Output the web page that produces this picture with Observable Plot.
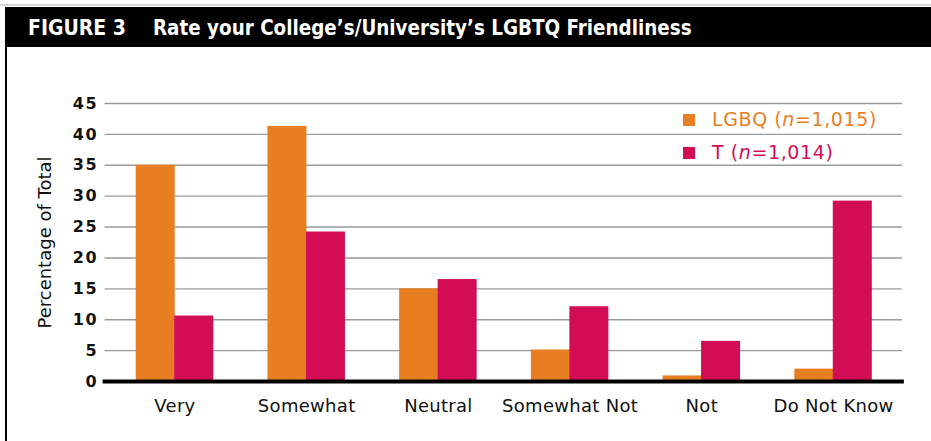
<!DOCTYPE html>
<html>
<head>
<meta charset="utf-8">
<script src="https://cdn.jsdelivr.net/npm/d3@7"></script>
<script src="https://cdn.jsdelivr.net/npm/@observablehq/plot@0.6"></script>
<style>
  body { margin: 0; background: #fff; }
  #wrap { position: relative; width: 931px; height: 441px; overflow: hidden; font-family: "DejaVu Sans", sans-serif; }
  #topline { position: absolute; left: 0; top: 4px; width: 931px; height: 2px; background: #d6d6d6; }
  #header { position: absolute; left: 5px; top: 7px; width: 926px; height: 40px; background: #000; color: #fff;
            font-family: "Liberation Sans Narrow", "DejaVu Sans Condensed", sans-serif; font-weight: bold; font-size: 21px;
            line-height: 42px; white-space: nowrap; }
  #header .fig { margin-left: 23px; margin-right: 27px; }
  #header .ttl { font-size: 20.4px; }
  #border { position: absolute; left: 5px; top: 47px; width: 2px; height: 394px; background: #000; }
  #chart { position: absolute; left: 0; top: 47px; }
  #legend { position: absolute; left: 683px; top: 103px; font-size: 19px; line-height: 33px; letter-spacing: 0.6px; }
  #legend .item { display: flex; align-items: center; white-space: nowrap; }
  #legend .sw { width: 12px; height: 12px; margin-right: 17px; }
  #chart svg g[aria-label="y-axis tick label"] text { letter-spacing: 1.5px; }
  #chart svg g[aria-label="x-axis tick label"] text { letter-spacing: 0.3px; }
</style>
</head>
<body>
<div id="wrap">
  <div id="topline"></div>
  <div id="header"><span class="fig">FIGURE 3</span><span class="ttl">Rate your College’s/University’s LGBTQ Friendliness</span></div>
  <div id="border"></div>
  <div id="chart"></div>
  <div id="legend"></div>
</div>
<script>
const categories = ["Very", "Somewhat", "Neutral", "Somewhat Not", "Not", "Do Not Know"];
const series = ["LGBQ", "T"];
const seriesLabels = ["LGBQ (", "T ("];
const seriesN = ["1,015", "1,014"];
const lgbqValues = [35.0, 41.3, 15.0, 5.1, 0.9, 2.0];
const tValues = [10.6, 24.2, 16.5, 12.1, 6.5, 29.2];
const yTicks = [0, 5, 10, 15, 20, 25, 30, 35, 40, 45];
const yLabel = "Percentage of Total";
const colors = ["#E87E22", "#D30D55"];

const lgbqData = categories.map((c, i) => ({category: c, series: series[0], value: lgbqValues[i]}));
const tData = categories.map((c, i) => ({category: c, series: series[1], value: tValues[i]}));

const chart = Plot.plot({
  width: 931,
  height: 394,
  marginLeft: 108.6,
  marginRight: 32.1,
  marginTop: 56,
  marginBottom: 60,
  x: {domain: categories, padding: 0, round: false},
  y: {domain: [0, 45]},
  color: {domain: series, range: colors},
  style: {fontFamily: "'DejaVu Sans', sans-serif", color: "#111", background: "transparent"},
  marks: [
    Plot.ruleY(yTicks.filter(d => d > 0), {stroke: "#9a9a9a", strokeWidth: 1.4, insetLeft: -4, insetRight: -3}),
    Plot.barY(lgbqData, {x: "category", y: "value", fill: "series", insetLeft: 27.1, insetRight: 65.6}),
    Plot.barY(tData, {x: "category", y: "value", fill: "series", insetLeft: 65.6, insetRight: 27.1}),
    Plot.ruleY([0], {stroke: "#000", strokeWidth: 4, insetLeft: -6, insetRight: -5}),
    Plot.axisY({ticks: yTicks, tickSize: 0, tickPadding: 11, fontSize: 16, fontWeight: "bold", label: null}),
    Plot.axisX({tickSize: 0, tickPadding: 18, fontSize: 18, label: null}),
    Plot.text([yLabel], {text: d => d, frameAnchor: "left", textAnchor: "middle", rotate: -90, dx: -63.6, fontSize: 18})
  ]
});
document.getElementById("chart").appendChild(chart);

const legend = document.getElementById("legend");
series.forEach((s, i) => {
  const item = document.createElement("div");
  item.className = "item";
  item.style.color = colors[i];
  item.innerHTML = `<span class="sw" style="background:${colors[i]}"></span><span>${seriesLabels[i]}<i>n</i>=${seriesN[i]})</span>`;
  legend.appendChild(item);
});
</script>
</body>
</html>
